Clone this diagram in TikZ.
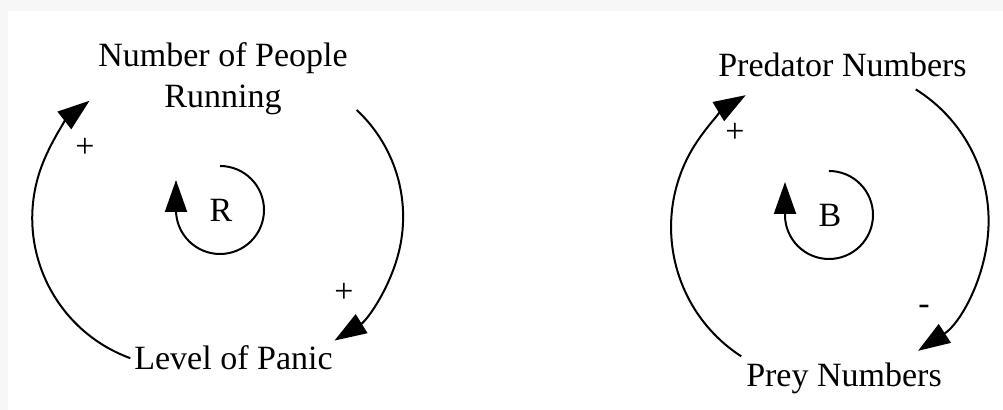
\documentclass[tikz,border=0pt]{standalone}
\usepackage{fontspec}
\setmainfont{Liberation Serif}
\usetikzlibrary{arrows.meta}
\definecolor{bggray}{HTML}{F7F7F7}

\begin{document}
\begin{tikzpicture}[x=0.5pt, y=0.5pt,
    link/.style={line width=1pt, -{Triangle[length=16pt, width=11pt]}},
    varname/.style={font=\fontsize{17}{20.5}\selectfont, align=center},
    sign/.style={font=\fontsize{17}{20}\selectfont, inner sep=0pt}]

% Achtergrond met grijze rand links en boven
\fill[bggray] (0,0) rectangle (1003,410);
\fill[white] (8,0) rectangle (1003,399);

% Versterkende lus (R)
\node[varname] (people) at (223,331) {Number of People\\Running};
\node[varname, anchor=base] (panic) at (233.5,40) {Level of Panic};

\draw[link] ([xshift=1.5pt]panic.west) arc[start angle=250, end angle=128, radius=149];
\draw[link] ([shift={(1pt,-1.5pt)}]people.-12) arc[start angle=47, end angle=-58, radius=146];

\node[sign] (signPeople) at (85,262) {+};
\node[sign] (signPanic) at (344,117) {+};

\node[varname] (loopR) at (221,200) {R};
\draw[link] (loopR.center) ++(-1,44)
    arc[start angle=90, end angle=-180, radius=44] -- ++(0,30);

% Balancerende lus (B)
\node[varname, anchor=base] (predator) at (842.5,333) {Predator Numbers};
\node[varname, anchor=base] (prey) at (844,23) {Prey Numbers};

\draw[link] ([xshift=1pt]prey.north west) arc[start angle=237, end angle=121, radius=154];
\draw[link] ([shift={(5.5pt,-2.5pt)}]predator.-17) arc[start angle=58, end angle=-57, radius=155];

\node[sign] (signPredator) at (735,277) {+};
\node[sign] (signPrey) at (924,100) {-};

\node[varname] (loopB) at (830,195) {B};
\draw[link] (loopB.center) ++(-1,44)
    arc[start angle=90, end angle=-180, radius=44] -- ++(0,33);
\end{tikzpicture}
\end{document}
